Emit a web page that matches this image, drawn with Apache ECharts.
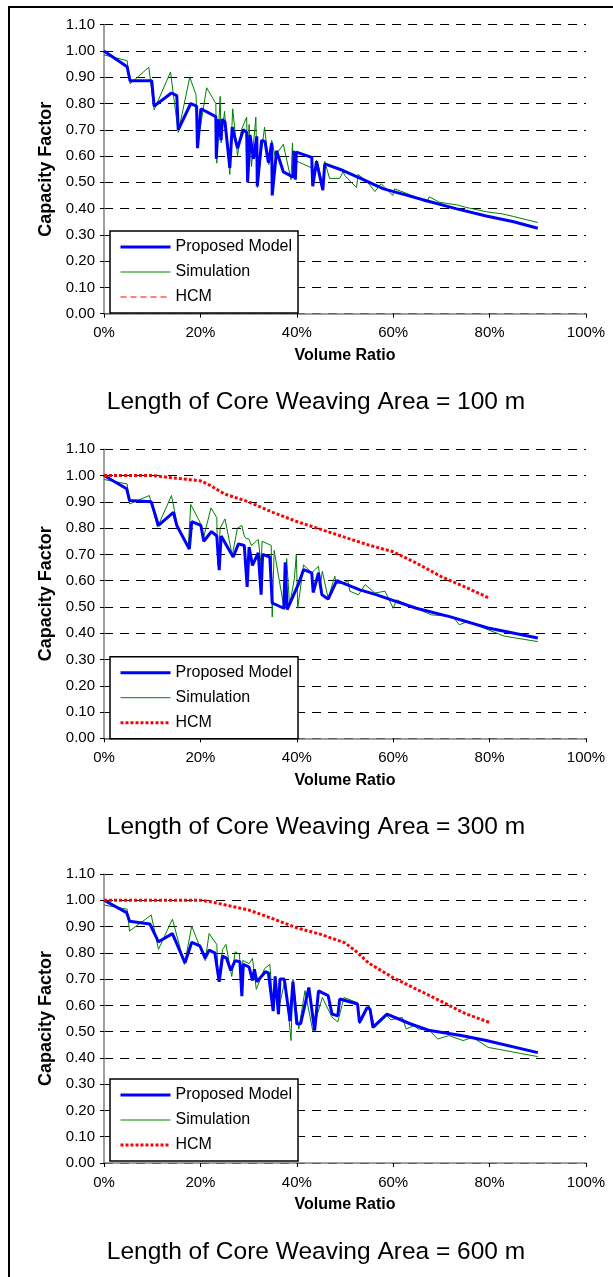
<!DOCTYPE html>
<html>
<head>
<meta charset="utf-8">
<script src="https://cdn.jsdelivr.net/npm/echarts@6/dist/echarts.min.js"></script>
<style>
    html, body { margin: 0; padding: 0; background: #fff; }
    #main { width: 613px; height: 1277px; }
</style>
</head>
<body>
<div id="main"></div>
<script>
    // volume ratio (%) and capacity factor
    var yTicks = [0, 0.1, 0.2, 0.3, 0.4, 0.5, 0.6, 0.7, 0.8, 0.9, 1.0, 1.1];
    var xTicks = [0, 20, 40, 60, 80, 100];
    var titles = ['Length of Core Weaving Area = 100 m', 'Length of Core Weaving Area = 300 m', 'Length of Core Weaving Area = 600 m'];

    // 100 m
    var modelX100 = [0, 4.8, 5.4, 9.9, 10.4, 14.0, 15.1, 15.4, 18.0, 19.2, 19.4, 20.1, 23.2, 23.3, 23.7, 24.3, 24.5, 25.1, 26.1, 26.6, 27.7, 28.9, 29.6, 29.8, 30.3, 31.0, 31.7, 31.8, 32.7, 33.4, 34.1, 34.8, 34.9, 35.8, 37.2, 39.3, 39.4, 39.7, 39.9, 43.1, 43.3, 44.1, 45.4, 45.8, 49.6, 53.8, 58.0, 62.0, 66.9, 73.0, 79.3, 85.0, 90.0];
    var model100 = [1.00, 0.94, 0.887, 0.887, 0.79, 0.84, 0.83, 0.70, 0.80, 0.79, 0.63, 0.78, 0.75, 0.59, 0.74, 0.66, 0.74, 0.73, 0.555, 0.71, 0.63, 0.70, 0.69, 0.50, 0.68, 0.59, 0.675, 0.485, 0.66, 0.655, 0.575, 0.65, 0.45, 0.62, 0.54, 0.52, 0.62, 0.51, 0.615, 0.595, 0.485, 0.58, 0.47, 0.57, 0.545, 0.51, 0.475, 0.455, 0.43, 0.40, 0.372, 0.35, 0.325];
    var simX100 = [0, 4.8, 5.4, 9.3, 10.4, 13.8, 15.4, 17.8, 19.1, 19.4, 21.3, 23.2, 23.4, 24.1, 24.3, 25.0, 26.1, 26.7, 27.7, 28.5, 29.6, 29.8, 30.1, 30.6, 31.5, 31.8, 33.3, 34.2, 34.8, 35.5, 37.2, 38.8, 39.1, 39.3, 40.1, 43.1, 43.3, 44.1, 45.4, 45.8, 46.8, 48.9, 49.6, 50.0, 52.4, 52.7, 54.5, 56.2, 57.5, 59.9, 60.3, 62.5, 64.5, 66.9, 67.5, 69.5, 71.0, 73.3, 75.0, 79.3, 82.6, 85.0, 90.0];
    var sim100 = [0.985, 0.963, 0.875, 0.938, 0.776, 0.92, 0.69, 0.90, 0.833, 0.643, 0.86, 0.80, 0.573, 0.827, 0.65, 0.77, 0.53, 0.78, 0.60, 0.70, 0.748, 0.50, 0.72, 0.56, 0.748, 0.48, 0.71, 0.567, 0.66, 0.60, 0.645, 0.51, 0.65, 0.52, 0.58, 0.555, 0.50, 0.585, 0.49, 0.58, 0.515, 0.515, 0.54, 0.525, 0.48, 0.53, 0.505, 0.465, 0.495, 0.45, 0.475, 0.46, 0.445, 0.425, 0.445, 0.425, 0.42, 0.414, 0.405, 0.388, 0.38, 0.37, 0.347];

    // 300 m
    var modelX300 = [0, 4.7, 5.3, 9.8, 11.3, 14.4, 15.1, 17.7, 18.2, 20.1, 20.7, 22.3, 23.4, 23.9, 24.3, 26.8, 27.9, 29.1, 29.7, 30.1, 30.8, 32.0, 32.6, 32.9, 34.4, 34.7, 34.9, 37.3, 37.6, 38.0, 40.4, 41.4, 43.1, 43.4, 44.5, 44.8, 45.2, 46.5, 48.3, 53.1, 56.6, 60.7, 64.8, 71.7, 79.7, 90.0];
    var model300 = [1.00, 0.95, 0.905, 0.90, 0.81, 0.86, 0.81, 0.72, 0.825, 0.81, 0.75, 0.787, 0.77, 0.64, 0.77, 0.69, 0.74, 0.734, 0.576, 0.728, 0.658, 0.706, 0.547, 0.70, 0.69, 0.69, 0.515, 0.495, 0.67, 0.49, 0.59, 0.642, 0.63, 0.555, 0.63, 0.623, 0.546, 0.53, 0.60, 0.565, 0.546, 0.52, 0.495, 0.463, 0.42, 0.382];
    var simX300 = [0, 4.8, 5.3, 9.4, 11.1, 14.0, 15.3, 17.5, 18.0, 19.9, 20.6, 22.2, 23.4, 23.6, 24.1, 25.1, 26.6, 27.7, 28.6, 29.1, 29.5, 30.0, 30.6, 32.0, 32.6, 32.8, 34.7, 34.9, 35.3, 37.4, 37.9, 38.5, 39.5, 39.9, 40.2, 41.4, 43.1, 44.5, 44.9, 45.3, 46.5, 47.9, 48.1, 49.6, 50.6, 51.0, 52.8, 54.2, 56.2, 58.3, 60.0, 60.7, 64.1, 67.9, 72.4, 73.7, 75.5, 79.7, 83.0, 86.0, 90.0];
    var sim300 = [0.985, 0.968, 0.892, 0.924, 0.804, 0.924, 0.804, 0.734, 0.89, 0.823, 0.76, 0.877, 0.84, 0.66, 0.80, 0.835, 0.696, 0.80, 0.81, 0.77, 0.76, 0.76, 0.734, 0.757, 0.66, 0.75, 0.734, 0.462, 0.715, 0.49, 0.684, 0.506, 0.608, 0.70, 0.495, 0.66, 0.63, 0.655, 0.585, 0.636, 0.533, 0.617, 0.59, 0.59, 0.60, 0.56, 0.546, 0.585, 0.553, 0.56, 0.495, 0.527, 0.50, 0.47, 0.463, 0.432, 0.445, 0.413, 0.389, 0.38, 0.368];
    var hcmX300 = [0, 5, 10, 15, 20, 22, 25, 30, 35, 40, 45, 50, 55, 60, 65, 70, 75, 80];
    var hcm300 = [1.00, 1.00, 1.00, 0.99, 0.98, 0.963, 0.93, 0.90, 0.86, 0.825, 0.795, 0.765, 0.735, 0.71, 0.665, 0.615, 0.575, 0.533];

    // 600 m
    var modelX600 = [0, 4.7, 5.3, 9.5, 11.3, 14.2, 16.8, 18.2, 19.9, 21.0, 21.8, 23.0, 23.9, 24.6, 25.4, 26.3, 27.2, 28.2, 28.6, 28.9, 30.1, 30.8, 31.2, 31.7, 33.5, 34.1, 35.1, 35.5, 36.2, 36.5, 37.4, 38.6, 39.2, 40.0, 40.8, 42.5, 43.7, 44.5, 46.5, 47.3, 48.5, 48.9, 52.6, 53.0, 54.6, 55.2, 55.8, 58.7, 63.5, 67.6, 74.1, 79.3, 90.0];
    var model600 = [1.00, 0.953, 0.92, 0.91, 0.842, 0.873, 0.762, 0.84, 0.826, 0.78, 0.81, 0.80, 0.69, 0.788, 0.78, 0.733, 0.77, 0.766, 0.635, 0.756, 0.746, 0.695, 0.737, 0.69, 0.728, 0.724, 0.578, 0.71, 0.566, 0.70, 0.70, 0.54, 0.69, 0.53, 0.53, 0.668, 0.504, 0.655, 0.637, 0.567, 0.56, 0.624, 0.605, 0.535, 0.592, 0.585, 0.516, 0.567, 0.53, 0.504, 0.485, 0.466, 0.42];
    var simX600 = [0, 4.8, 5.3, 9.8, 11.3, 14.2, 16.7, 18.2, 21.0, 21.8, 23.4, 23.7, 24.6, 25.3, 26.5, 27.2, 28.1, 28.6, 28.8, 30.1, 30.8, 31.6, 33.3, 34.4, 35.1, 35.5, 36.3, 37.6, 38.8, 39.2, 40.4, 41.7, 43.3, 45.3, 47.3, 48.5, 49.8, 52.6, 53.0, 55.0, 56.2, 58.7, 59.5, 61.9, 62.7, 64.3, 65.2, 67.6, 69.2, 71.6, 74.5, 76.5, 79.7, 90.0];
    var sim600 = [0.982, 0.966, 0.883, 0.944, 0.813, 0.928, 0.756, 0.902, 0.77, 0.873, 0.832, 0.70, 0.813, 0.832, 0.71, 0.804, 0.794, 0.642, 0.771, 0.759, 0.779, 0.661, 0.74, 0.756, 0.59, 0.712, 0.59, 0.70, 0.466, 0.70, 0.51, 0.656, 0.504, 0.63, 0.555, 0.537, 0.63, 0.61, 0.53, 0.60, 0.517, 0.56, 0.545, 0.554, 0.51, 0.523, 0.51, 0.504, 0.472, 0.485, 0.466, 0.478, 0.44, 0.405];
    var hcmX600 = [0, 10, 20, 22, 25, 30, 35, 40, 45, 50, 52, 55, 60, 65, 70, 75, 80];
    var hcm600 = [1.00, 1.00, 1.00, 0.995, 0.983, 0.963, 0.93, 0.895, 0.87, 0.838, 0.81, 0.76, 0.705, 0.66, 0.615, 0.568, 0.535];

    function zip(xs, ys) {
        return xs.map(function (x, i) { return [x, ys[i]]; });
    }

    var FONT = "'Liberation Sans', Arial, sans-serif";
    var tops = [24.7, 449.3, 874];
    var plotH = 289;
    var legendTops = [231, 656.7, 1079];
    var titleY = [402, 827, 1252];

    var grids = [], xAxes = [], yAxes = [], legends = [], graphics = [];
    tops.forEach(function (t, i) {
        grids.push({ left: 104, right: 27, top: t, height: plotH });
        xAxes.push({
            type: 'value', gridIndex: i, min: 0, max: 100, interval: 20,
            name: 'Volume Ratio', nameLocation: 'middle', nameGap: 34,
            nameTextStyle: { fontFamily: FONT, fontSize: 16, fontWeight: 'bold', color: '#000' },
            axisLine: { show: true, onZero: false, lineStyle: { color: '#808080', width: 1.5 } },
            axisTick: { show: true, length: 4, lineStyle: { color: '#000' } },
            axisLabel: { formatter: '{value}%', fontFamily: FONT, fontSize: 15, color: '#000', margin: 12 },
            splitLine: { show: false }
        });
        yAxes.push({
            type: 'value', gridIndex: i, min: 0, max: 1.1, interval: 0.1,
            name: 'Capacity Factor', nameLocation: 'middle', nameGap: 48,
            nameTextStyle: { fontFamily: FONT, fontSize: 18, fontWeight: 'bold', color: '#000' },
            axisLine: { show: true, lineStyle: { color: '#808080', width: 1.5 } },
            axisTick: { show: true, length: 4, lineStyle: { color: '#000' } },
            axisLabel: { formatter: function (v) { return v.toFixed(2); }, fontFamily: FONT, fontSize: 15, color: '#000', margin: 9 },
            splitLine: { show: true, lineStyle: { color: '#000', width: 1, type: [9, 7] } }
        });
        var hcmLegend = i === 0
            ? { name: 'HCM', lineStyle: { color: '#ff8080', width: 2, type: [6, 4] }, itemStyle: { opacity: 0 } }
            : { name: 'HCM', lineStyle: { color: '#ff0000', width: 3, type: [3, 2] }, itemStyle: { opacity: 0 } };
        legends.push({
            orient: 'vertical', left: 110, top: legendTops[i],
            padding: [8, 6, 8, 9], itemWidth: 50, itemHeight: 14, itemGap: 9,
            backgroundColor: '#fff', borderColor: '#000', borderWidth: 1.5,
            selectedMode: false,
            textStyle: { fontFamily: FONT, fontSize: 16, color: '#000' },
            data: [
                { name: 'Proposed Model', lineStyle: { color: '#0000ff', width: 3, type: 'solid' }, itemStyle: { opacity: 0 } },
                { name: 'Simulation', lineStyle: { color: '#008000', width: 1, type: 'solid' }, itemStyle: { opacity: 0 } },
                hcmLegend
            ]
        });
        graphics.push({
            type: 'text', x: 316, y: titleY[i],
            style: { text: titles[i], font: '24.5px ' + FONT, fill: '#000', textAlign: 'center', textVerticalAlign: 'middle' }
        });
    });

    // frame of the figure
    graphics.push({ type: 'line', shape: { x1: 9, y1: 7, x2: 9, y2: 1277 }, style: { stroke: '#000', lineWidth: 2 } });
    graphics.push({ type: 'line', shape: { x1: 8, y1: 7, x2: 613, y2: 7 }, style: { stroke: '#000', lineWidth: 2 } });

    function lineSeries(name, idx, data, color, width, type, z) {
        return {
            name: name, type: 'line', xAxisIndex: idx, yAxisIndex: idx,
            data: data, symbol: 'none', animation: false, z: z,
            lineStyle: { color: color, width: width, type: type },
            itemStyle: { color: color }
        };
    }

    var series = [
        lineSeries('Simulation', 0, zip(simX100, sim100), '#008000', 1, 'solid', 2),
        lineSeries('Proposed Model', 0, zip(modelX100, model100), '#0000ff', 3, 'solid', 3),
        lineSeries('Simulation', 1, zip(simX300, sim300), '#008000', 1, 'solid', 2),
        lineSeries('Proposed Model', 1, zip(modelX300, model300), '#0000ff', 3, 'solid', 3),
        lineSeries('HCM', 1, zip(hcmX300, hcm300), '#ff0000', 3, [3, 2], 4),
        lineSeries('Simulation', 2, zip(simX600, sim600), '#008000', 1, 'solid', 2),
        lineSeries('Proposed Model', 2, zip(modelX600, model600), '#0000ff', 3, 'solid', 3),
        lineSeries('HCM', 2, zip(hcmX600, hcm600), '#ff0000', 3, [3, 2], 4)
    ];

    var chart = echarts.init(document.getElementById('main'));
    chart.setOption({
        backgroundColor: '#fff',
        animation: false,
        grid: grids,
        xAxis: xAxes,
        yAxis: yAxes,
        legend: legends,
        graphic: graphics,
        series: series
    });
</script>
</body>
</html>
